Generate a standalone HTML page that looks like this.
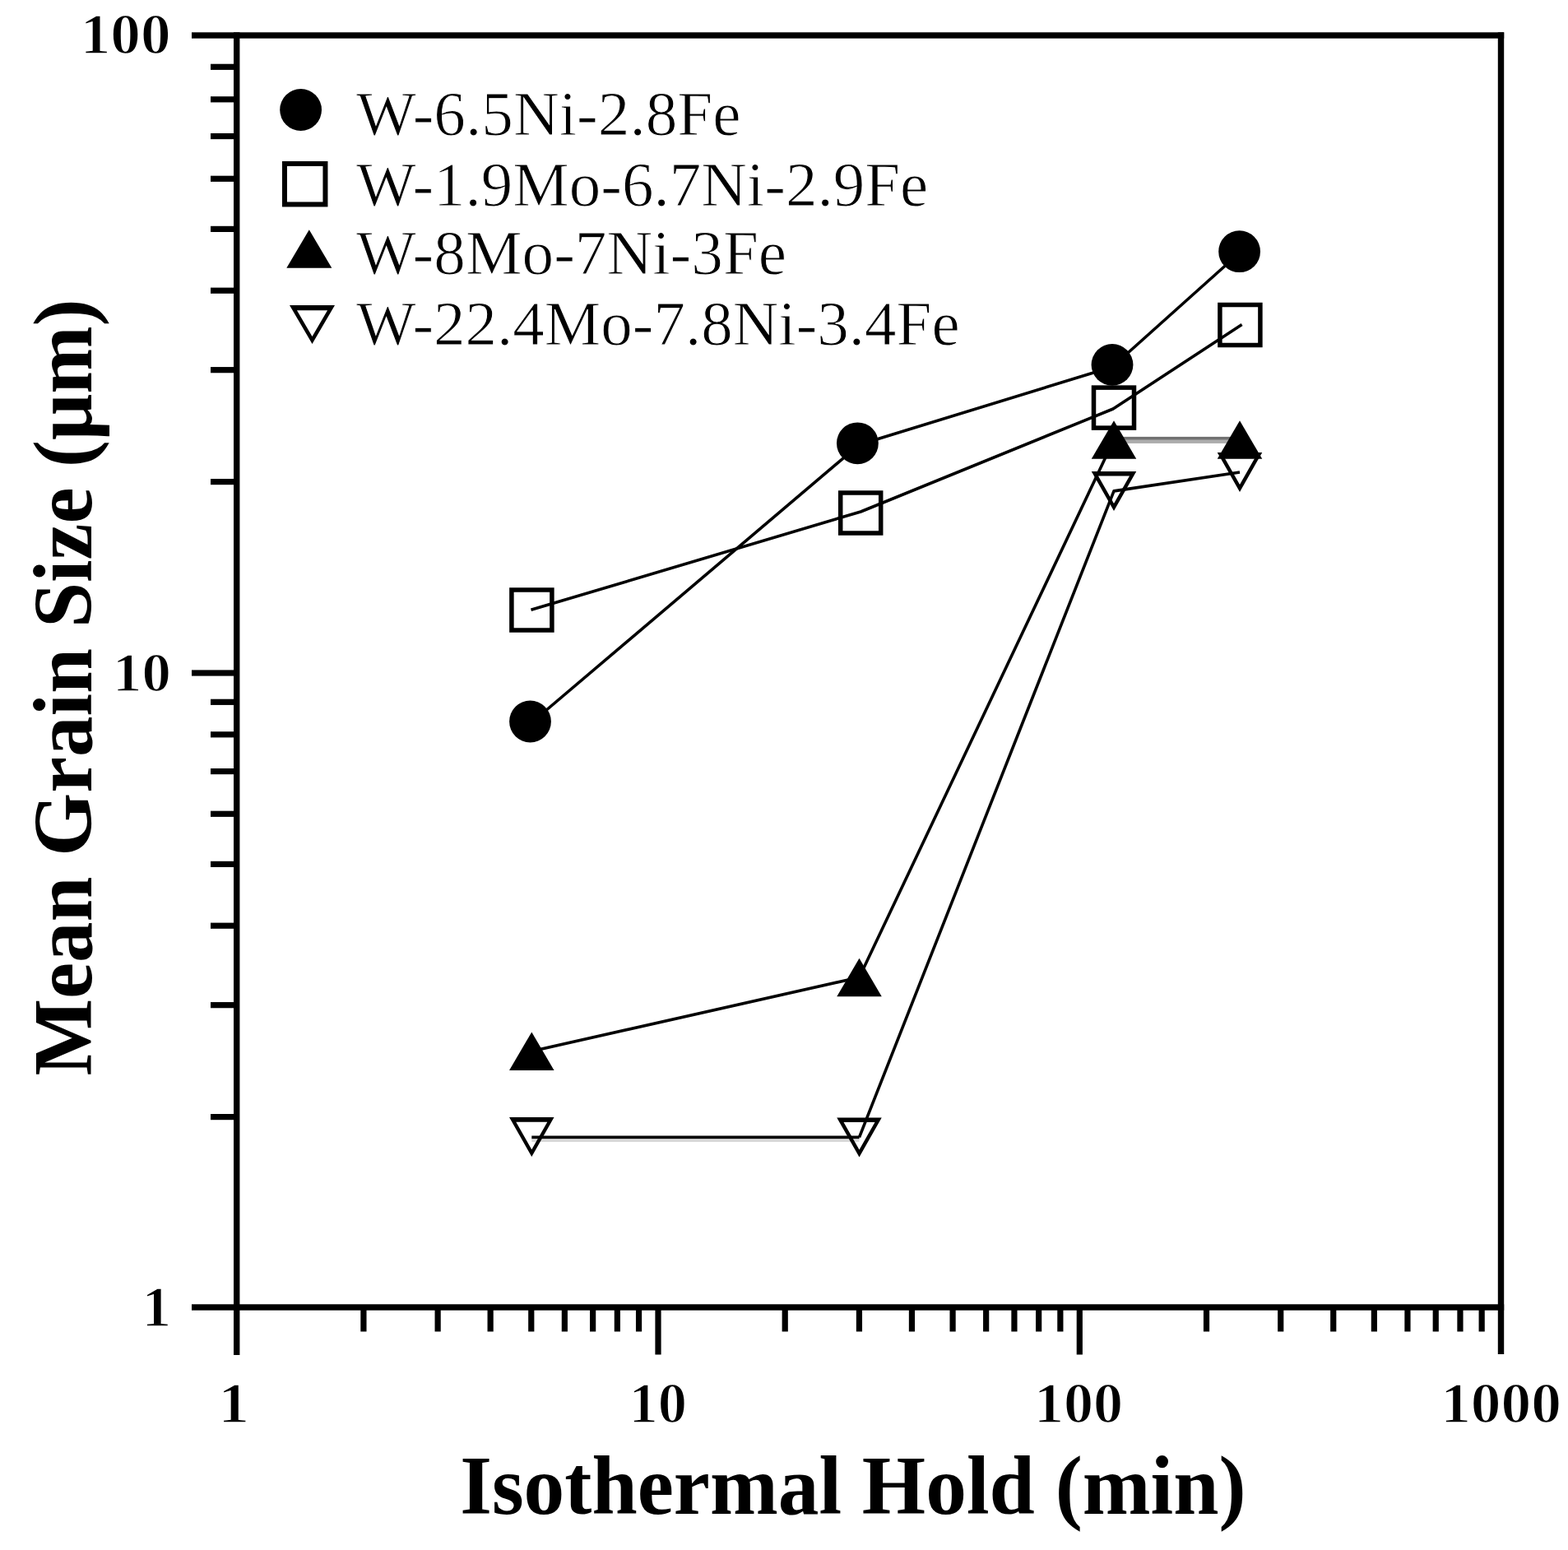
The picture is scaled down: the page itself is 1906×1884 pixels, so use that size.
<!DOCTYPE html>
<html><head><meta charset="utf-8"><title>Mean Grain Size vs Isothermal Hold</title>
<style>html,body{margin:0;padding:0;background:#fff;overflow:hidden}svg{display:block}</style></head><body>
<svg width="1906" height="1884" viewBox="0 0 1906 1884">
<rect width="100%" height="100%" fill="#fff"/>
<g fill="#000">
<rect x="233" y="39.30" width="1595.20" height="7.4"/>
<rect x="233" y="1585.30" width="1595.20" height="7.4"/>
<rect x="284.00" y="39.30" width="7.4" height="1607.70"/>
<rect x="1820.80" y="39.30" width="7.4" height="1606.70"/>
<rect x="256" y="1354.00" width="31.70" height="7.2"/>
<rect x="256" y="1218.06" width="31.70" height="7.2"/>
<rect x="256" y="1121.61" width="31.70" height="7.2"/>
<rect x="256" y="1046.80" width="31.70" height="7.2"/>
<rect x="256" y="985.67" width="31.70" height="7.2"/>
<rect x="256" y="933.98" width="31.70" height="7.2"/>
<rect x="256" y="889.21" width="31.70" height="7.2"/>
<rect x="256" y="849.72" width="31.70" height="7.2"/>
<rect x="256" y="582.00" width="31.70" height="7.2"/>
<rect x="256" y="446.06" width="31.70" height="7.2"/>
<rect x="256" y="349.61" width="31.70" height="7.2"/>
<rect x="256" y="274.80" width="31.70" height="7.2"/>
<rect x="256" y="213.67" width="31.70" height="7.2"/>
<rect x="256" y="161.98" width="31.70" height="7.2"/>
<rect x="256" y="117.21" width="31.70" height="7.2"/>
<rect x="256" y="77.72" width="31.70" height="7.2"/>
<rect x="233" y="814.40" width="54.70" height="7.2"/>
<rect x="438.32" y="1589.00" width="7.2" height="29.50"/>
<rect x="528.53" y="1589.00" width="7.2" height="29.50"/>
<rect x="592.54" y="1589.00" width="7.2" height="29.50"/>
<rect x="642.18" y="1589.00" width="7.2" height="29.50"/>
<rect x="682.75" y="1589.00" width="7.2" height="29.50"/>
<rect x="717.04" y="1589.00" width="7.2" height="29.50"/>
<rect x="746.75" y="1589.00" width="7.2" height="29.50"/>
<rect x="772.96" y="1589.00" width="7.2" height="29.50"/>
<rect x="950.62" y="1589.00" width="7.2" height="29.50"/>
<rect x="1040.83" y="1589.00" width="7.2" height="29.50"/>
<rect x="1104.84" y="1589.00" width="7.2" height="29.50"/>
<rect x="1154.48" y="1589.00" width="7.2" height="29.50"/>
<rect x="1195.05" y="1589.00" width="7.2" height="29.50"/>
<rect x="1229.34" y="1589.00" width="7.2" height="29.50"/>
<rect x="1259.05" y="1589.00" width="7.2" height="29.50"/>
<rect x="1285.26" y="1589.00" width="7.2" height="29.50"/>
<rect x="1462.92" y="1589.00" width="7.2" height="29.50"/>
<rect x="1553.13" y="1589.00" width="7.2" height="29.50"/>
<rect x="1617.14" y="1589.00" width="7.2" height="29.50"/>
<rect x="1666.78" y="1589.00" width="7.2" height="29.50"/>
<rect x="1707.35" y="1589.00" width="7.2" height="29.50"/>
<rect x="1741.64" y="1589.00" width="7.2" height="29.50"/>
<rect x="1771.35" y="1589.00" width="7.2" height="29.50"/>
<rect x="1797.56" y="1589.00" width="7.2" height="29.50"/>
<rect x="796.40" y="1589.00" width="7.2" height="57.50"/>
<rect x="1308.70" y="1589.00" width="7.2" height="57.50"/>
</g>
<text transform="translate(97.64,65.00) scale(0.7326,0.6909)" font-family="'Liberation Serif', serif" font-weight="bold" font-size="100" stroke="#fff" stroke-width="2">100</text>
<text transform="translate(137.04,839.60) scale(0.7080,0.6788)" font-family="'Liberation Serif', serif" font-weight="bold" font-size="100" stroke="#fff" stroke-width="2">10</text>
<text transform="translate(172.49,1612.00) scale(0.7135,0.7000)" font-family="'Liberation Serif', serif" font-weight="bold" font-size="100" stroke="#fff" stroke-width="2">1</text>
<text transform="translate(265.25,1729.00) scale(0.7568,0.6894)" font-family="'Liberation Serif', serif" font-weight="bold" font-size="100" stroke="#fff" stroke-width="2">1</text>
<text transform="translate(764.56,1729.00) scale(0.7045,0.6894)" font-family="'Liberation Serif', serif" font-weight="bold" font-size="100" stroke="#fff" stroke-width="2">10</text>
<text transform="translate(1256.93,1729.00) scale(0.7217,0.6894)" font-family="'Liberation Serif', serif" font-weight="bold" font-size="100" stroke="#fff" stroke-width="2">100</text>
<text transform="translate(1751.13,1729.00) scale(0.7340,0.6894)" font-family="'Liberation Serif', serif" font-weight="bold" font-size="100" stroke="#fff" stroke-width="2">1000</text>
<text transform="translate(559.22,1840.30) scale(0.9941,1.0169)" font-family="'Liberation Serif', serif" font-weight="bold" font-size="100" >Isothermal Hold (min)</text>
<text transform="translate(110.7,1307.48) rotate(-90) scale(0.9900,1.0123)" font-family="'Liberation Serif', serif" font-weight="bold" font-size="100">Mean Grain Size (&#956;m)</text>
<text transform="translate(433.00,163.55) scale(0.7724,0.7562)" font-family="'Liberation Serif', serif" font-weight="normal" font-size="100" stroke="#fff" stroke-width="1.3">W-6.5Ni-2.8Fe</text>
<text transform="translate(433.00,249.95) scale(0.7702,0.7546)" font-family="'Liberation Serif', serif" font-weight="normal" font-size="100" stroke="#fff" stroke-width="1.3">W-1.9Mo-6.7Ni-2.9Fe</text>
<text transform="translate(433.00,332.85) scale(0.7720,0.7638)" font-family="'Liberation Serif', serif" font-weight="normal" font-size="100" stroke="#fff" stroke-width="1.3">W-8Mo-7Ni-3Fe</text>
<text transform="translate(433.00,419.15) scale(0.7701,0.7638)" font-family="'Liberation Serif', serif" font-weight="normal" font-size="100" stroke="#fff" stroke-width="1.3">W-22.4Mo-7.8Ni-3.4Fe</text>
<polyline points="646.0,878.5 1044.5,540.5 1352.0,446.0 1506.6,307.5" fill="none" stroke="#000" stroke-width="3.6" stroke-linejoin="round"/>
<polyline points="645.5,741.3 1046.2,622.0 1353.0,497.0 1509.6,394.5" fill="none" stroke="#000" stroke-width="3.6" stroke-linejoin="round"/>
<polyline points="646.3,1277.7 1044.5,1188.0 1354.0,534.6" fill="none" stroke="#000" stroke-width="3.6" stroke-linejoin="round"/>
<polyline points="1044.5,1382.4 1354.0,596.9 1507.0,574.0" fill="none" stroke="#000" stroke-width="3.6" stroke-linejoin="round"/>
<rect x="1354.0" y="530.9" width="153.0" height="3.9" fill="#717171"/>
<rect x="1354.0" y="534.8" width="153.0" height="4.1" fill="#acacac"/>
<rect x="646.3" y="1380.5" width="398.2" height="3.9" fill="#000"/>
<rect x="646.3" y="1384.4" width="398.2" height="3.6" fill="#d9d9d9"/>
<circle cx="644.5" cy="877" r="25.4" fill="#000"/>
<circle cx="1042.4" cy="538.8" r="25.4" fill="#000"/>
<circle cx="1352" cy="443.4" r="25.4" fill="#000"/>
<circle cx="1506.6" cy="305.7" r="25.4" fill="#000"/>
<rect x="621.90" y="717.00" width="49" height="49" fill="none" stroke="#000" stroke-width="5.5"/>
<rect x="1021.70" y="599.00" width="49" height="49" fill="none" stroke="#000" stroke-width="5.5"/>
<rect x="1329.50" y="471.10" width="49" height="49" fill="none" stroke="#000" stroke-width="5.5"/>
<rect x="1482.90" y="370.50" width="49" height="49" fill="none" stroke="#000" stroke-width="5.5"/>
<polygon points="646.30,1254.45 673.55,1300.95 619.05,1300.95" fill="#000"/>
<polygon points="1044.50,1164.75 1071.75,1211.25 1017.25,1211.25" fill="#000"/>
<polygon points="1354.00,511.35 1381.25,557.85 1326.75,557.85" fill="#000"/>
<polygon points="1507.00,511.25 1534.25,557.75 1479.75,557.75" fill="#000"/>
<path d="M619.05,1358.10 L673.55,1358.10 L646.30,1406.10 Z M627.29,1363.70 L665.31,1363.70 L646.30,1397.19 Z" fill="#000" fill-rule="evenodd"/>
<path d="M1017.25,1358.40 L1071.75,1358.40 L1044.50,1406.40 Z M1025.49,1364.00 L1063.51,1364.00 L1044.50,1397.49 Z" fill="#000" fill-rule="evenodd"/>
<path d="M1326.75,572.90 L1381.25,572.90 L1354.00,620.90 Z M1334.99,578.50 L1373.01,578.50 L1354.00,611.99 Z" fill="#000" fill-rule="evenodd"/>
<path d="M1479.75,550.00 L1534.25,550.00 L1507.00,598.00 Z M1487.99,555.60 L1526.01,555.60 L1507.00,589.09 Z" fill="#000" fill-rule="evenodd"/>
<circle cx="365.6" cy="133.5" r="25.4" fill="#000"/>
<rect x="345.95" y="198.95" width="49.5" height="49.5" fill="none" stroke="#000" stroke-width="6"/>
<polygon points="375.80,279.25 403.30,325.75 348.30,325.75" fill="#000"/>
<path d="M352.00,371.00 L407.00,371.00 L379.50,418.00 Z M360.96,377.20 L398.04,377.20 L379.50,408.89 Z" fill="#000" fill-rule="evenodd"/>
</svg></body></html>
